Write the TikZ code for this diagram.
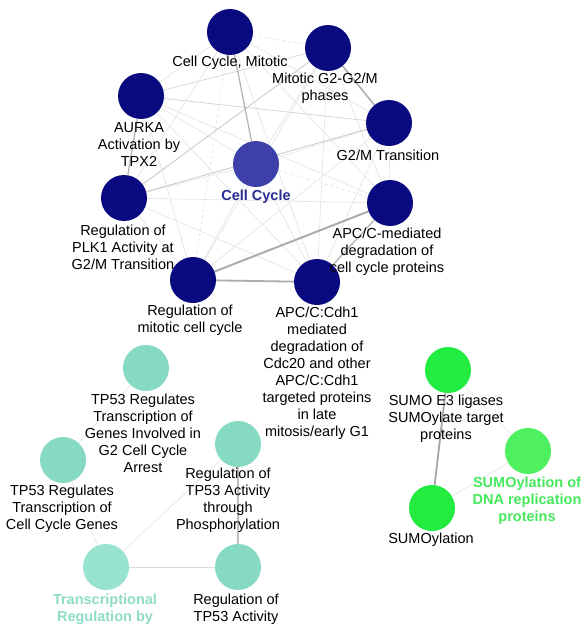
\documentclass[tikz,border=0pt]{standalone}
\usepackage{fontspec}
\setmainfont{Liberation Sans}
\usetikzlibrary{backgrounds}
\definecolor{navy}{HTML}{0A0A80}
\definecolor{ccblue}{HTML}{3C40A8}
\definecolor{cctext}{HTML}{2A2E90}
\definecolor{teal1}{HTML}{86DAC4}
\definecolor{teal2}{HTML}{98E2D0}
\definecolor{teallbl}{HTML}{8EDCC8}
\definecolor{green1}{HTML}{22EC40}
\definecolor{green2}{HTML}{4EF060}
\definecolor{greenlbl}{HTML}{46E85C}
\begin{document}
\begin{tikzpicture}[x=1pt,y=-1pt,
  dot/.style={circle,minimum size=46pt,inner sep=0pt},
  lbl/.style={font=\fontsize{14.5}{17}\selectfont,align=center,inner sep=0pt},
  blbl/.style={lbl,font=\fontsize{14.5}{17}\selectfont\bfseries},
  faint/.style={draw=gray!22,line width=0.6pt},
  fdash/.style={draw=gray!25,line width=0.6pt,dashed},
  mid/.style={draw=gray!40,line width=0.9pt},
  strong/.style={draw=gray!65,line width=1.5pt}]
\useasboundingbox (0,0) rectangle (584,629);
% top cluster nodes
\node[dot,fill=navy] (CCM) at (230,32) {};
\node[dot,fill=navy] (MG2) at (328,48) {};
\node[dot,fill=navy] (AUR) at (141,96) {};
\node[dot,fill=navy] (G2M) at (389,123) {};
\node[dot,fill=ccblue] (CC) at (256,164) {};
\node[dot,fill=navy] (PLK) at (124,198) {};
\node[dot,fill=navy] (APCm) at (390,203) {};
\node[dot,fill=navy] (RM) at (193,280) {};
\node[dot,fill=navy] (CDH) at (317,282) {};
% teal nodes
\node[dot,fill=teal1] (TG2) at (146,368) {};
\node[dot,fill=teal1] (TCC) at (63,460) {};
\node[dot,fill=teal1] (TPH) at (238,444) {};
\node[dot,fill=teal2] (TR) at (106,567) {};
\node[dot,fill=teal1] (RT) at (238,567) {};
% green nodes
\node[dot,fill=green1] (SE3) at (448,370) {};
\node[dot,fill=green2] (SDNA) at (528,451) {};
\node[dot,fill=green1] (SUM) at (432,508) {};
% labels
\node[lbl] (lCCM) at (230,63) {Cell Cycle, Mitotic};
\node[lbl] (lMG2) at (325,88.5) {Mitotic G2-G2/M\\phases};
\node[lbl] (lAUR) at (139,145) {AURKA\\Activation by\\TPX2};
\node[lbl] (lG2M) at (388,155) {G2/M Transition};
\node[blbl,text=cctext] (lCC) at (256,197) {Cell Cycle};
\node[lbl] (lPLK) at (123,247) {Regulation of\\PLK1 Activity at\\G2/M Transition};
\node[lbl] (lAPCm) at (387,251.5) {APC/C-mediated\\degradation of\\cell cycle proteins};
\node[lbl] (lRM) at (190,320.5) {Regulation of\\mitotic cell cycle};
\node[lbl] (lCDH) at (317,373.5) {APC/C:Cdh1\\mediated\\degradation of\\Cdc20 and other\\APC/C:Cdh1\\targeted proteins\\in late\\mitosis/early G1};
\node[lbl] (lTG2) at (143,433.5) {TP53 Regulates\\Transcription of\\Genes Involved in\\G2 Cell Cycle\\Arrest};
\node[lbl] (lTCC) at (62,509) {TP53 Regulates\\Transcription of\\Cell Cycle Genes};
\node[lbl] (lTPH) at (228,500.5) {Regulation of\\TP53 Activity\\through\\Phosphorylation};
\node[blbl,text=teallbl] (lTR) at (105,609) {Transcriptional\\Regulation by};
\node[lbl] (lRT) at (236,609) {Regulation of\\TP53 Activity};
\node[lbl] (lSE3) at (446,419) {SUMO E3 ligases\\SUMOylate target\\proteins};
\node[blbl,text=greenlbl] (lSDNA) at (527,501) {SUMOylation of\\DNA replication\\proteins};
\node[lbl] (lSUM) at (431,540) {SUMOylation};
\begin{pgfonlayer}{background}
\fill[white] (0,0) rectangle (584,629);
% faint near-complete mesh of the top cluster
\foreach \a/\b in {CCM/AUR,CCM/G2M,CCM/PLK,CCM/APCm,CCM/CDH,
  MG2/CC,MG2/RM,MG2/CDH,MG2/APCm,
  AUR/CC,AUR/RM,AUR/APCm,AUR/CDH,
  G2M/CC,G2M/RM,G2M/CDH,G2M/APCm,
  CC/PLK,CC/RM,CC/CDH,PLK/RM,PLK/CDH,PLK/APCm}
  {\path[faint] (\a) -- (\b);}
\foreach \a/\b in {CCM/MG2,CC/APCm,CCM/RM,MG2/PLK}
  {\path[fdash] (\a) -- (\b);}
\path[draw=gray!32,line width=0.8pt] (AUR) -- (G2M);
\path[draw=gray!30,line width=0.8pt] (AUR) -- (MG2);
\path[mid] (PLK) -- (G2M);
\path[draw=gray!38,line width=0.9pt] (PLK) -- (MG2);
\path[draw=gray!60,line width=1.2pt] (CCM) -- (CC);
\path[draw=gray!62,line width=1.6pt] (MG2) -- (G2M);
\path[draw=gray!60,line width=1.2pt] (AUR) -- (PLK);
\path[strong,line width=2pt] (RM) -- (APCm);
\path[strong,line width=1.8pt] (RM) -- (CDH);
\path[draw=gray!55,line width=1.4pt] (CDH) -- (APCm);
% teal edges
\path[faint] (TG2) -- (TCC);
\path[faint] (TCC) -- (TR);
\path[faint] (TR) -- (TPH);
\path[draw=gray!30,line width=0.9pt] (TR) -- (RT);
\path[draw=gray!50,line width=1.1pt] (TPH) -- (RT);
% green edges
\path[draw=gray!70,line width=1.8pt] (SE3) -- (SUM);
\path[faint] (SE3) -- (SDNA);
\path[faint] (SUM) -- (SDNA);
\end{pgfonlayer}
\end{tikzpicture}
\end{document}
